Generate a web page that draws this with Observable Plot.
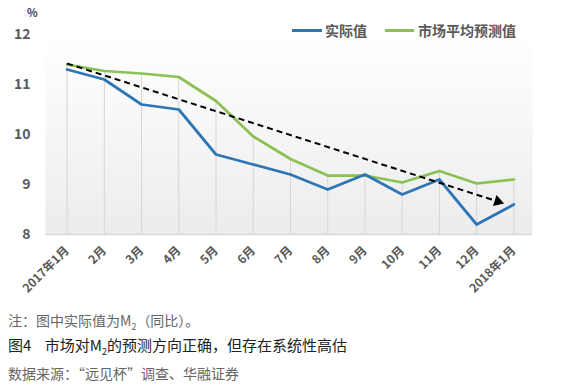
<!DOCTYPE html>
<html>
<head>
<meta charset="utf-8">
<script src="https://cdn.jsdelivr.net/npm/d3@7"></script>
<script src="https://cdn.jsdelivr.net/npm/@observablehq/plot@0.6"></script>
<style>
  html, body { margin: 0; padding: 0; background: #fff; }
  #wrap { position: relative; width: 575px; height: 387px; overflow: hidden; font-family: "Noto Sans CJK SC", "Noto Sans", sans-serif; }
  #chart { position: absolute; left: 0; top: 0; }
  .abs { position: absolute; white-space: nowrap; }
  .legend { font-size: 14px; font-weight: bold; color: #595959; line-height: 16px; }
  .sw { position: absolute; height: 3px; }
  .cap { font-size: 14px; line-height: 18px; color: #555; }
</style>
</head>
<body>
<div id="wrap">
  <div id="chart"></div>
  <div class="abs" style="left:27px; top:4px; font-size:11px; font-weight:bold; color:#404040;">%</div>
  <div class="sw" style="left:292px; top:29px; width:30px; background:#2e75b6;"></div>
  <div class="abs legend" style="left:325px; top:22px;">实际值</div>
  <div class="sw" style="left:385px; top:29px; width:29px; background:#8bc152;"></div>
  <div class="abs legend" style="left:418px; top:22px;">市场平均预测值</div>
  <div class="abs cap" style="left:8px; top:311px; color:#666;">注：图中实际值为M<sub style="font-size:9px;">2</sub>（同比）。</div>
  <div class="abs cap" style="left:8px; top:336px; font-size:15px; color:#222;">图4&nbsp;&nbsp;&nbsp;&nbsp;市场对M<sub style="font-size:9px;">2</sub>的预测方向正确，但存在系统性高估</div>
  <div class="abs cap" style="left:8px; top:364px; color:#666;">数据来源：“远见杯”调查、华融证券</div>
</div>
<script>
const months = ["2017年1月","2月","3月","4月","5月","6月","7月","8月","9月","10月","11月","12月","2018年1月"];
const actual = [11.3, 11.1, 10.6, 10.5, 9.6, 9.4, 9.2, 8.9, 9.2, 8.8, 9.1, 8.2, 8.6];
const forecast = [11.4, 11.27, 11.22, 11.15, 10.67, 9.96, 9.51, 9.18, 9.18, 9.04, 9.27, 9.02, 9.1];
const yTicks = [8, 9, 10, 11, 12];
const trendArrow = [{x1: 0, y1: 11.42, x2: 11.57, y2: 8.66}];

const idx = months.map((m, i) => i);
const actualData = idx.map(i => ({i, v: actual[i]}));
const forecastData = idx.map(i => ({i, v: forecast[i]}));
const dropData = idx.map(i => ({i, top: Math.max(actual[i], forecast[i])}));

const chart = Plot.plot({
  width: 575,
  height: 300,
  marginLeft: 45,
  marginRight: 43,
  marginTop: 34,
  marginBottom: 66,
  style: {fontFamily: '"Noto Sans CJK SC", "Noto Sans", sans-serif', background: "transparent"},
  x: {type: "linear", domain: [-0.58, 12.5]},
  y: {domain: [8, 12]},
  marks: [
    Plot.frame({fill: "url(#plotbg)", stroke: "none"}),
    Plot.ruleX(dropData, {x: "i", y1: 8, y2: "top", stroke: "#d6d6d6", strokeWidth: 1}),
    Plot.ruleY([8], {stroke: "#d9d9d9", strokeWidth: 1.5}),
    Plot.axisY({ticks: yTicks, tickFormat: d => String(d), tickSize: 0, tickPadding: 15, label: null, fontSize: 14, fontWeight: "bold", color: "#595959"}),
    Plot.axisX({ticks: idx, tickFormat: i => months[i], tickRotate: -45, tickSize: 0, tickPadding: 14, label: null, fontSize: 12, fontWeight: "bold", color: "#595959"}),
    Plot.line(forecastData, {x: "i", y: "v", stroke: "#8bc152", strokeWidth: 2.75}),
    Plot.line(actualData, {x: "i", y: "v", stroke: "#2e75b6", strokeWidth: 2.75}),
    Plot.link(trendArrow, {x1: "x1", y1: "y1", x2: "x2", y2: "y2", stroke: "#000", strokeWidth: 2, strokeDasharray: "6,4"}),
    Plot.dot(trendArrow, {x: "x2", y: "y2", symbol: "triangle", r: 4.2, fill: "#000", stroke: "none", rotate: 107.8})
  ]
});

const svg = d3.select(chart);
const defs = svg.insert("defs", ":first-child");
const g = defs.append("linearGradient").attr("id", "plotbg").attr("x1", 0).attr("y1", 0).attr("x2", 0).attr("y2", 1);
g.append("stop").attr("offset", "0%").attr("stop-color", "#ffffff");
g.append("stop").attr("offset", "100%").attr("stop-color", "#ececec");

document.getElementById("chart").appendChild(chart);
</script>
</body>
</html>
